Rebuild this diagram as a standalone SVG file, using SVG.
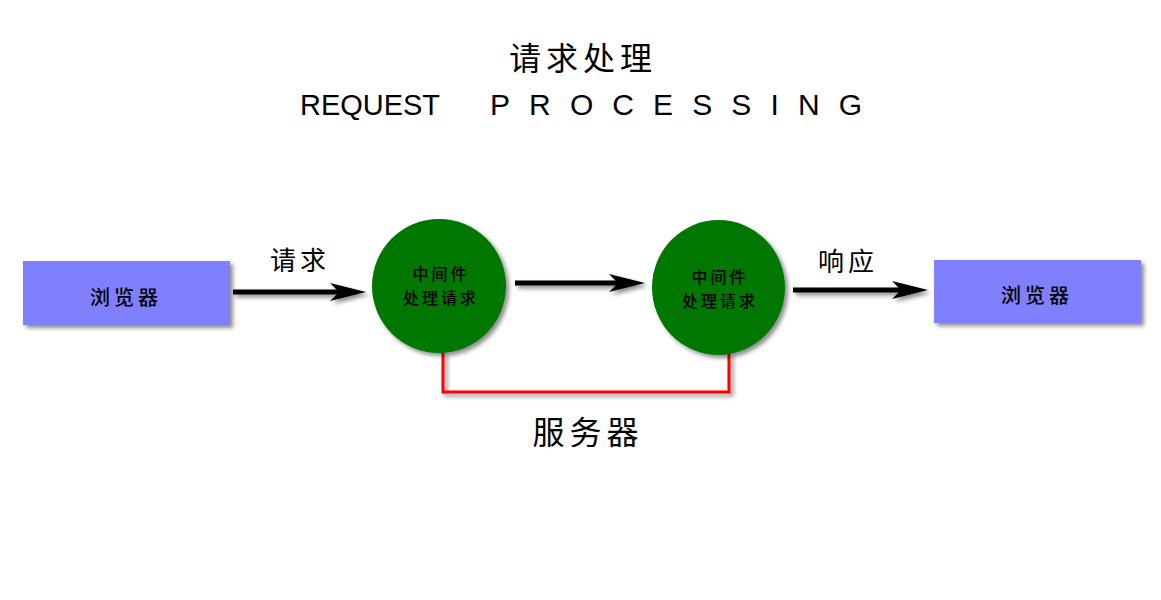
<svg xmlns="http://www.w3.org/2000/svg" width="1161" height="600" viewBox="0 0 1161 600">
  <defs>
    <filter id="sh" x="-20%" y="-20%" width="140%" height="140%">
      <feDropShadow dx="3" dy="3" stdDeviation="2" flood-color="#000" flood-opacity="0.45"/>
    </filter>
    <marker id="arr" markerUnits="userSpaceOnUse" viewBox="-36 -10 38 20" refX="-27" refY="0" markerWidth="38" markerHeight="20" orient="auto">
      <path d="M0,0 L-36,-9 L-27,0 L-36,9 Z" fill="#000"/>
    </marker>
    <style>
      .cjk { font-family: "Noto Sans CJK SC", "Noto Sans CJK TC", sans-serif; fill: #000; text-anchor: middle; }
      .lat { font-family: "Liberation Sans", "DejaVu Sans", sans-serif; fill: #000; }
      .box { fill: #8080FF; filter: url(#sh); }
      .mid { fill: #007700; filter: url(#sh); }
      .flow { stroke: #000; stroke-width: 5; fill: none; marker-end: url(#arr); }
      .srv { stroke: #FF0000; stroke-width: 3; fill: none; }
    </style>
  </defs>
  <rect width="1161" height="600" fill="#fff"/>

  <g id="title">
    <text class="cjk" x="583" y="70" font-size="32" letter-spacing="5">请求处理</text>
    <text class="lat" x="300" y="115" font-size="30" textLength="140" lengthAdjust="spacingAndGlyphs">REQUEST</text>
    <text class="lat" x="490" y="115" font-size="30" textLength="372" lengthAdjust="spacing">PROCESSING</text>
  </g>

  <g id="connectors" filter="url(#sh)">
    <path id="c-request" class="flow" d="M233,292 L339,292"/>
    <path id="c-mid" class="flow" d="M515,283 L618,283"/>
    <path id="c-response" class="flow" d="M793,290 L901,290"/>
    <path id="c-server" class="srv" d="M443,352 L443,392 L729,392 L729,353"/>
  </g>

  <g id="label-request"><text class="cjk" x="300" y="270" font-size="26" letter-spacing="4">请求</text></g>
  <g id="label-response"><text class="cjk" x="848" y="271" font-size="26" letter-spacing="4">响应</text></g>
  <g id="label-server"><text class="cjk" x="588" y="444" font-size="32" letter-spacing="5">服务器</text></g>

  <g id="browser-left">
    <rect class="box" x="23" y="261" width="207" height="64"/>
    <text class="cjk" x="126" y="305" font-size="20" font-weight="500" letter-spacing="4">浏览器</text>
  </g>

  <g id="middleware-1">
    <circle class="mid" cx="439" cy="286" r="67"/>
    <text class="cjk" x="441" y="280" font-size="16" font-weight="500" letter-spacing="3">中间件</text>
    <text class="cjk" x="441" y="304" font-size="16" font-weight="500" letter-spacing="3">处理请求</text>
  </g>

  <g id="middleware-2">
    <ellipse class="mid" cx="718.5" cy="287.5" rx="66.5" ry="67.5"/>
    <text class="cjk" x="720" y="283" font-size="16" font-weight="500" letter-spacing="3">中间件</text>
    <text class="cjk" x="720" y="307" font-size="16" font-weight="500" letter-spacing="3">处理请求</text>
  </g>

  <g id="browser-right">
    <rect class="box" x="934" y="260" width="207" height="63"/>
    <text class="cjk" x="1037" y="303" font-size="20" font-weight="500" letter-spacing="4">浏览器</text>
  </g>
</svg>
